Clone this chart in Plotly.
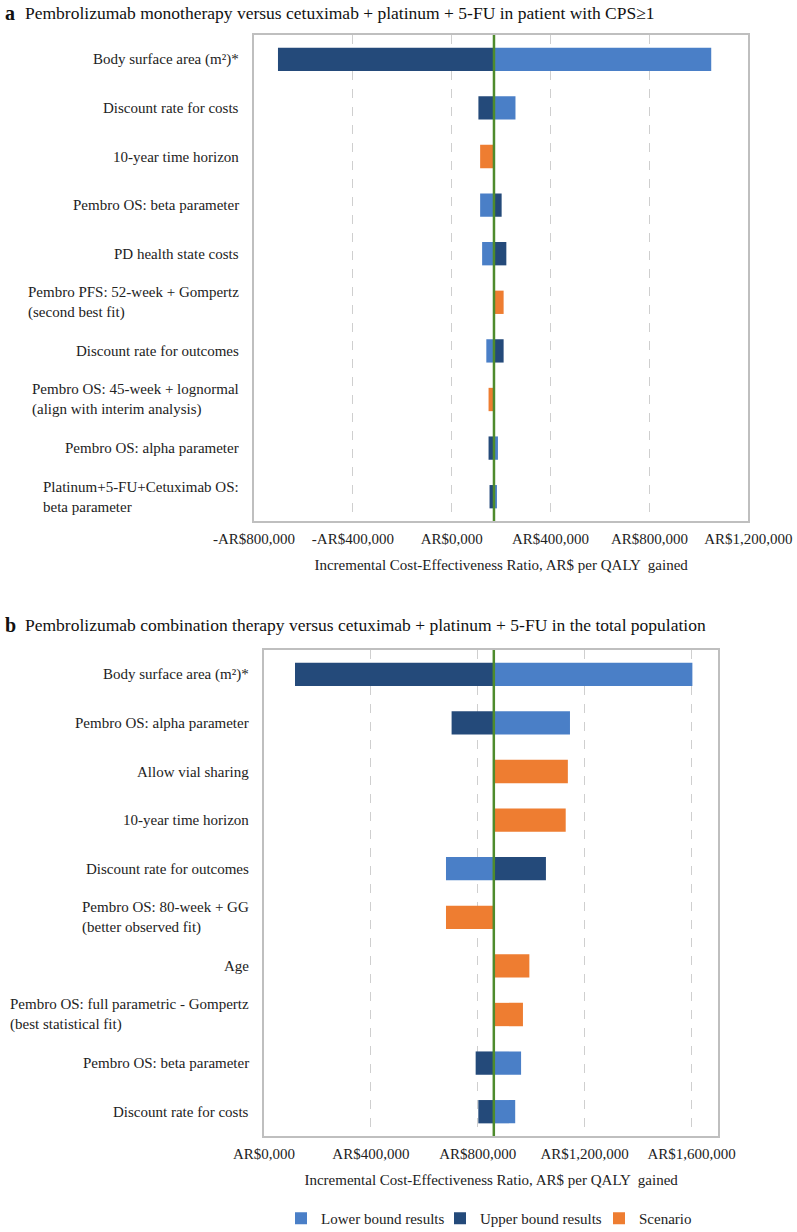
import plotly.graph_objects as go

# ---- panel a: pembrolizumab monotherapy, CPS>=1 ----
params_a = [
    "Body surface area (m²)*",
    "Discount rate for costs",
    "10-year time horizon",
    "Pembro OS: beta parameter",
    "PD health state costs",
    "Pembro PFS: 52-week + Gompertz<br>(second best fit)",
    "Discount rate for outcomes",
    "Pembro OS: 45-week + lognormal<br>(align with interim analysis)",
    "Pembro OS: alpha parameter",
    "Platinum+5-FU+Cetuximab OS:<br>beta parameter",
]
base_a = 171000
lower_a = [1050000, 258000, None, 115000, 123000, None, 140000, None, 187000, 183000]
upper_a = [-703000, 108000, None, 202000, 221000, None, 210000, None, 149000, 153000]
scenario_a = [None, None, 115000, None, None, 210000, None, 149000, None, None]
ticks_a = [-800000, -400000, 0, 400000, 800000, 1200000]
ticktext_a = ["-AR$800,000", "-AR$400,000", "AR$0,000", "AR$400,000", "AR$800,000", "AR$1,200,000"]

# ---- panel b: pembrolizumab combination, total population ----
params_b = [
    "Body surface area (m²)*",
    "Pembro OS: alpha parameter",
    "Allow vial sharing",
    "10-year time horizon",
    "Discount rate for outcomes",
    "Pembro OS: 80-week + GG<br>(better observed fit)",
    "Age",
    "Pembro OS: full parametric - Gompertz<br>(best statistical fit)",
    "Pembro OS: beta parameter",
    "Discount rate for costs",
]
base_b = 860000
lower_b = [1603000, 1145000, None, None, 681000, None, None, None, 962000, 940000]
upper_b = [116000, 702000, None, None, 1055000, None, None, None, 792000, 802000]
scenario_b = [None, None, 1137000, 1129000, None, 681000, 993000, 969000, None, None]
ticks_b = [0, 400000, 800000, 1200000, 1600000]
ticktext_b = ["AR$0,000", "AR$400,000", "AR$800,000", "AR$1,200,000", "AR$1,600,000"]

titles = [
    "Pembrolizumab monotherapy versus cetuximab + platinum + 5-FU in patient with CPS≥1",
    "Pembrolizumab combination therapy versus cetuximab + platinum + 5-FU in the total population",
]
xtitle = "Incremental Cost-Effectiveness Ratio, AR$ per QALY \u00a0gained"

LIGHT = "#4A7FC7"
DARK = "#244A7A"
ORANGE = "#EE7D31"
GREEN = "#4E8B2C"
FONT = "Liberation Serif"

W, H = 797, 1232


def px(x):
    return x / W


def py(y):
    return 1 - y / H


def rel(vals, base):
    return [None if v is None else v - base for v in vals]


fig = go.Figure()

series = [("Lower bound results", LIGHT, lower_a, lower_b),
          ("Upper bound results", DARK, upper_a, upper_b),
          ("Scenario", ORANGE, scenario_a, scenario_b)]

for name, color, va, vb in series:
    fig.add_trace(go.Bar(
        y=params_a, x=rel(va, base_a), base=base_a, orientation="h",
        width=0.48, marker=dict(color=color, line_width=0),
        name=name, legendgroup=name, xaxis="x", yaxis="y",
    ))
    fig.add_trace(go.Bar(
        y=params_b, x=rel(vb, base_b), base=base_b, orientation="h",
        width=0.48, marker=dict(color=color, line_width=0),
        name=name, legendgroup=name, showlegend=False, xaxis="x2", yaxis="y2",
    ))

# base case lines
fig.add_shape(type="line", xref="x", yref="y domain", x0=base_a, x1=base_a, y0=0, y1=1,
              line=dict(color=GREEN, width=2.5))
fig.add_shape(type="line", xref="x2", yref="y2 domain", x0=base_b, x1=base_b, y0=0, y1=1,
              line=dict(color=GREEN, width=2.5))

# category labels (left aligned lines, right anchored block)
for params, xr, yr in [(params_a, "x domain", "y"), (params_b, "x2 domain", "y2")]:
    for p in params:
        fig.add_annotation(x=0, xref=xr, y=p, yref=yr, text=p, showarrow=False,
                           xanchor="right", yanchor="middle", align="left", xshift=-13,
                           font=dict(family=FONT, size=15, color="#222222"))

# panel titles
for letter, title, ypix in [("a", titles[0], 13), ("b", titles[1], 625)]:
    fig.add_annotation(x=px(3), y=py(ypix), xref="paper", yref="paper",
                       text="<b>" + letter + "</b>", showarrow=False,
                       xanchor="left", yanchor="middle",
                       font=dict(family=FONT, size=20, color="#111111"))
    fig.add_annotation(x=px(23), y=py(ypix), xref="paper", yref="paper",
                       text=title, showarrow=False, xanchor="left", yanchor="middle",
                       font=dict(family=FONT, size=17.5, color="#111111"))

xcommon = dict(
    automargin=False,
    showgrid=True, gridcolor="#CFCFCF", griddash="dash", gridwidth=1,
    zeroline=False, showline=True, mirror=True, linecolor="#BFBFBF", linewidth=1.5,
    ticks="", ticklabelstandoff=3, tickfont=dict(family=FONT, size=15, color="#222222"),
    title=dict(text=xtitle, font=dict(family=FONT, size=15, color="#222222"), standoff=14),
)
ycommon = dict(
    automargin=False,
    type="category", autorange="reversed", showticklabels=False, showgrid=False,
    zeroline=False, showline=True, mirror=True, linecolor="#BFBFBF", linewidth=1.5,
)

fig.update_layout(
    template="none",
    width=W, height=H,
    margin=dict(l=0, r=0, t=0, b=0, autoexpand=False),
    paper_bgcolor="white", plot_bgcolor="white",
    barmode="overlay",
    font=dict(family=FONT, size=15, color="#222222"),
    xaxis=dict(domain=[px(254), px(748.3)], anchor="y", range=[-800000, 1200000],
               tickvals=ticks_a, ticktext=ticktext_a, **xcommon),
    yaxis=dict(domain=[py(521), py(35)], anchor="x", **ycommon),
    xaxis2=dict(domain=[px(264), px(718.3)], anchor="y2", range=[0, 1700000],
                tickvals=ticks_b, ticktext=ticktext_b, **xcommon),
    yaxis2=dict(domain=[py(1136), py(650)], anchor="x2", **ycommon),
    legend=dict(orientation="h", x=px(281), xanchor="left", y=py(1202),
                yanchor="top", font=dict(family=FONT, size=15, color="#222222"),
                bgcolor="rgba(0,0,0,0)", traceorder="normal", itemwidth=30,
                entrywidth=114, entrywidthmode="pixels"),
)

# drop the default 8px page margin so the figure fills the window
fig.write_html("out.html", config={"displayModeBar": False},
               post_script="document.body.style.margin = '0';")
